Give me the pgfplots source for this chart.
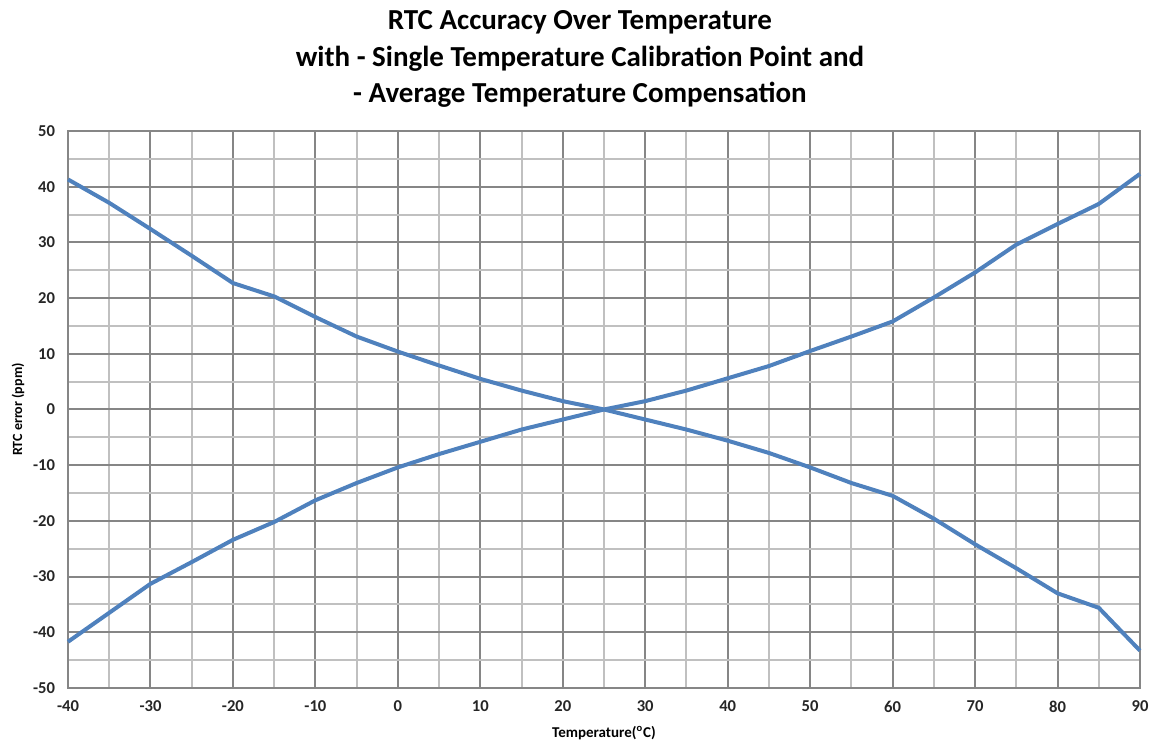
\documentclass[border=0pt]{standalone}
\usepackage{fontspec}
\setmainfont{Carlito}
\usepackage{pgfplots}
\pgfplotsset{compat=1.18}
\definecolor{lineblue}{HTML}{4F81BD}
\definecolor{majgrid}{HTML}{868686}
\definecolor{mingrid}{HTML}{C0C0C0}
\begin{document}
\begin{tikzpicture}
\begin{axis}[
  at={(0,0)}, anchor=south west,
  scale only axis, width=536pt, height=278.5pt,
  xmin=-40, xmax=90, ymin=-50, ymax=50,
  xtick={-40,-30,...,90}, ytick={-50,-40,...,50},
  minor x tick num=1, minor y tick num=1,
  grid=both,
  major grid style={draw=majgrid, line width=1pt},
  minor grid style={draw=mingrid, line width=1pt},
  axis line style={draw=majgrid, line width=1pt},
  major tick length=0pt, minor tick length=0pt,
  tick label style={font=\bfseries\fontsize{8.3}{10}\selectfont, text=black!85},
  /pgf/number format/assume math mode=true,
  xticklabel style={yshift=-3pt},
  yticklabel style={xshift=-3pt},
  clip=false,
]
\addplot[lineblue, line width=2pt] coordinates {
(-40,41.3) (-35,37.1) (-30,32.4) (-25,27.6) (-20,22.7) (-15,20.3) (-10,16.6) (-5,13.1) (0,10.4)
(5,7.9) (10,5.5) (15,3.4) (20,1.5) (25,0) (30,-1.8) (35,-3.6) (40,-5.6) (45,-7.8)
(50,-10.4) (55,-13.2) (60,-15.5) (65,-19.6) (70,-24.2) (75,-28.5) (80,-33) (85,-35.6) (90,-43.3)
};
\addplot[lineblue, line width=2pt] coordinates {
(-40,-41.7) (-35,-36.5) (-30,-31.3) (-25,-27.4) (-20,-23.4) (-15,-20.2) (-10,-16.3) (-5,-13.2) (0,-10.4)
(5,-8) (10,-5.8) (15,-3.6) (20,-1.8) (25,0) (30,1.5) (35,3.4) (40,5.6) (45,7.8)
(50,10.5) (55,13.1) (60,15.8) (65,20.1) (70,24.6) (75,29.6) (80,33.3) (85,36.9) (90,42.3)
};
\end{axis}
\node[font=\bfseries\fontsize{14.5}{18.25}\selectfont, align=center] at (256pt,314.5pt)
  {RTC Accuracy Over Temperature\\with - Single Temperature Calibration Point and\\- Average Temperature Compensation};
\node[font=\bfseries\fontsize{7}{8}\selectfont, rotate=90] at (-25pt,139.25pt) {RTC error (ppm)};
\node[font=\bfseries\fontsize{7.5}{9}\selectfont] at (268pt,-22.5pt) {Temperature(\textsuperscript{o}C)};
\pgfresetboundingbox
\path (-34pt,-26pt) rectangle (542.5pt,344pt);
\end{tikzpicture}
\end{document}
